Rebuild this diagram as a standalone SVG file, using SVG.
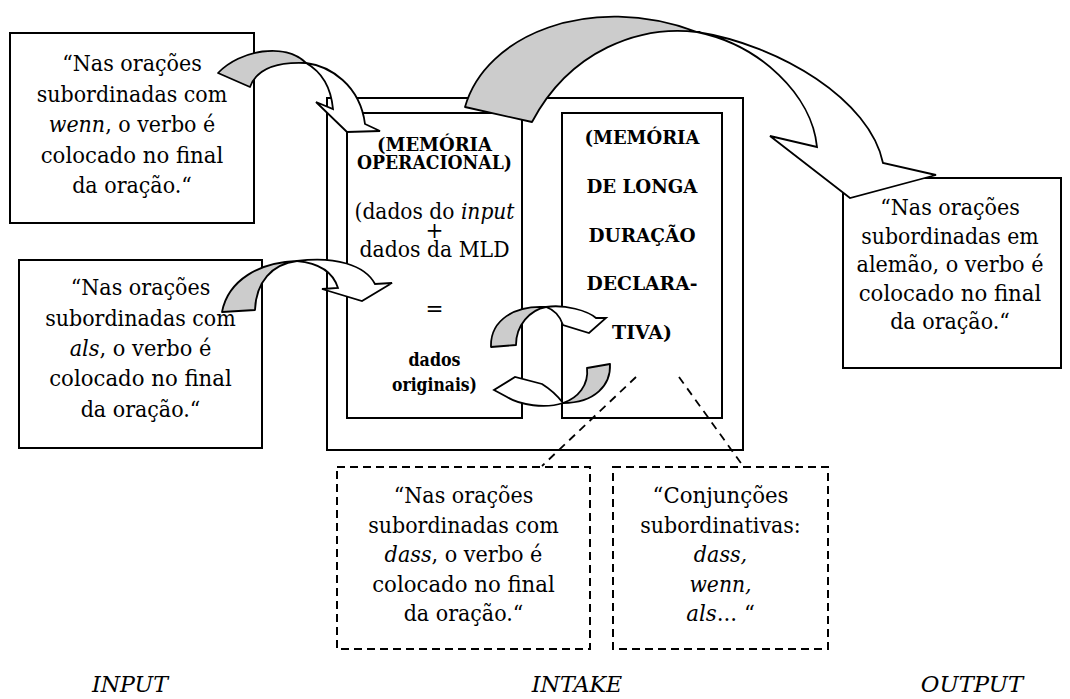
<svg xmlns="http://www.w3.org/2000/svg" width="1070" height="699" viewBox="0 0 1070 699">
<style>
.box{fill:#fff;stroke:#000;stroke-width:2}
.dbox{fill:#fff;stroke:#000;stroke-width:2;stroke-dasharray:8 5}
.dline{fill:none;stroke:#000;stroke-width:1.8;stroke-dasharray:8 6}
.t{font-family:"DejaVu Serif",serif;font-size:22px;fill:#000;text-anchor:middle}
.b{font-family:"DejaVu Serif",serif;font-weight:bold;font-size:18px;fill:#000;text-anchor:middle}
.m{font-family:"DejaVu Serif",serif;font-size:21.5px;fill:#000;text-anchor:middle}
.lab{font-family:"DejaVu Serif",serif;font-size:22px;font-style:italic;fill:#000;text-anchor:middle}
.i{font-style:italic}
.gray{fill:#cccccc;stroke:#000;stroke-width:1.8;stroke-linejoin:round}
.white{fill:#fff;stroke:#000;stroke-width:1.8;stroke-linejoin:miter}
</style>

<g id="intake">
<rect class="box" x="327" y="98" width="416" height="352"/>
</g>

<g id="mem-operacional">
<rect class="box" x="347" y="113" width="175" height="305"/>
<text class="b" x="434.5" y="151" textLength="115" lengthAdjust="spacingAndGlyphs">(MEMÓRIA</text>
<text class="b" x="434.5" y="169" textLength="155" lengthAdjust="spacingAndGlyphs">OPERACIONAL)</text>
<text class="m" x="434.5" y="219" textLength="160" lengthAdjust="spacingAndGlyphs">(dados do <tspan class="i">input</tspan></text>
<text class="m" x="434.5" y="238" font-size="20">+</text>
<text class="m" x="434.5" y="257" textLength="150" lengthAdjust="spacingAndGlyphs">dados da MLD</text>
<text class="m" x="434.5" y="316">=</text>
<text class="b" x="434.5" y="366" textLength="52" lengthAdjust="spacingAndGlyphs">dados</text>
<text class="b" x="434.5" y="391" textLength="85" lengthAdjust="spacingAndGlyphs">originais)</text>
</g>

<g id="mem-longa">
<rect class="box" x="562" y="113" width="160" height="305"/>
<text class="b" x="642" y="144" textLength="115" lengthAdjust="spacingAndGlyphs">(MEMÓRIA</text>
<text class="b" x="642" y="193" textLength="111" lengthAdjust="spacingAndGlyphs">DE LONGA</text>
<text class="b" x="642" y="242" textLength="107" lengthAdjust="spacingAndGlyphs">DURAÇÃO</text>
<text class="b" x="642" y="290" textLength="111" lengthAdjust="spacingAndGlyphs">DECLARA-</text>
<text class="b" x="642" y="339" textLength="60" lengthAdjust="spacingAndGlyphs">TIVA)</text>
</g>

<g id="input-wenn">
<rect class="box" x="10" y="33" width="244" height="190"/>
<text class="t" x="132" y="71" textLength="139.5" lengthAdjust="spacingAndGlyphs">“Nas orações</text>
<text class="t" x="132" y="101.5" textLength="190.6" lengthAdjust="spacingAndGlyphs">subordinadas com</text>
<text class="t" x="132" y="132" textLength="166.5" lengthAdjust="spacingAndGlyphs"><tspan class="i">wenn</tspan>, o verbo é</text>
<text class="t" x="132" y="162.5" textLength="182.6" lengthAdjust="spacingAndGlyphs">colocado no final</text>
<text class="t" x="132" y="193" textLength="119.7" lengthAdjust="spacingAndGlyphs">da oração.“</text>
</g>

<g id="input-als">
<rect class="box" x="19" y="260" width="243" height="188"/>
<text class="t" x="140.5" y="295" textLength="139.5" lengthAdjust="spacingAndGlyphs">“Nas orações</text>
<text class="t" x="140.5" y="325.5" textLength="190.6" lengthAdjust="spacingAndGlyphs">subordinadas com</text>
<text class="t" x="140.5" y="356" textLength="141.7" lengthAdjust="spacingAndGlyphs"><tspan class="i">als</tspan>, o verbo é</text>
<text class="t" x="140.5" y="386" textLength="182.6" lengthAdjust="spacingAndGlyphs">colocado no final</text>
<text class="t" x="140.5" y="416.5" textLength="119.7" lengthAdjust="spacingAndGlyphs">da oração.“</text>
</g>

<g id="output">
<rect class="box" x="843" y="178" width="218" height="190"/>
<text class="t" x="950" y="215" textLength="139.5" lengthAdjust="spacingAndGlyphs">“Nas orações</text>
<text class="t" x="950" y="243.5" textLength="177.5" lengthAdjust="spacingAndGlyphs">subordinadas em</text>
<text class="t" x="950" y="272" textLength="187" lengthAdjust="spacingAndGlyphs">alemão, o verbo é</text>
<text class="t" x="950" y="300.5" textLength="182.6" lengthAdjust="spacingAndGlyphs">colocado no final</text>
<text class="t" x="950" y="329" textLength="119.7" lengthAdjust="spacingAndGlyphs">da oração.“</text>
</g>

<g id="intake-dass">
<rect class="dbox" x="337" y="467" width="253" height="182"/>
<text class="t" x="463.5" y="503" textLength="139.5" lengthAdjust="spacingAndGlyphs">“Nas orações</text>
<text class="t" x="463.5" y="532.5" textLength="190.6" lengthAdjust="spacingAndGlyphs">subordinadas com</text>
<text class="t" x="463.5" y="562" textLength="157.8" lengthAdjust="spacingAndGlyphs"><tspan class="i">dass</tspan>, o verbo é</text>
<text class="t" x="463.5" y="591.5" textLength="182.6" lengthAdjust="spacingAndGlyphs">colocado no final</text>
<text class="t" x="463.5" y="621" textLength="119.7" lengthAdjust="spacingAndGlyphs">da oração.“</text>
</g>

<g id="intake-conjuncoes">
<rect class="dbox" x="613" y="467" width="215" height="182"/>
<text class="t" x="720.5" y="503" textLength="135.9" lengthAdjust="spacingAndGlyphs">“Conjunções</text>
<text class="t" x="720.5" y="532.5" textLength="160.5" lengthAdjust="spacingAndGlyphs">subordinativas:</text>
<text class="t" x="720.5" y="562" textLength="53.3" lengthAdjust="spacingAndGlyphs"><tspan class="i">dass,</tspan></text>
<text class="t" x="720.5" y="591.5" textLength="62.1" lengthAdjust="spacingAndGlyphs"><tspan class="i">wenn,</tspan></text>
<text class="t" x="720.5" y="621" textLength="68.7" lengthAdjust="spacingAndGlyphs"><tspan class="i">als</tspan>... “</text>
</g>

<g id="connectors">
<path class="gray" d="M218,73 C240,50 285,42 306,63 C285,62 258,65 250,87 Z"/>
<path class="white" d="M306,63 C330,66 360,85 365,124 L380,131 L347,132 L316,102 L333,109 C331,88 322,72 306,63 Z"/>
<path class="gray" d="M222,312 C228,280 260,262 297,261 C272,264 256,282 255,310 Z"/>
<path class="white" d="M297,261 C335,256 365,265 375,284 L392,283 L362,301 L322,289 L338,288 C333,272 318,263 297,261 Z"/>
<path class="gray" d="M465,107 C485,35 590,-8 697,32 C640,25 570,50 532,122 Z"/>
<path class="white" d="M697,32 C780,45 870,100 883,163 L936,175 L850,198 L770,136 L817,147 C812,95 760,45 697,32 Z"/>
<path class="gray" d="M491,347 C490,320 515,305 546,307 C530,310 516,325 516,345 Z"/>
<path class="white" d="M546,307 C565,304 588,311 596,318 L606,318 L589,333 L563,325 C560,316 555,310 546,307 Z"/>
<path class="gray" d="M610,364 C611,385 595,403 563,403 C578,398 589,385 587,368 Z"/>
<path class="white" d="M563,403 C545,409 520,405 507,397 L494,390 L515,377 L542,384 C550,389 557,395 563,403 Z"/>
<path class="dline" d="M636,377 L542,466"/>
<path class="dline" d="M679,377 L743,466"/>
</g>

<g id="labels">
<text class="lab" x="130" y="692" textLength="76" lengthAdjust="spacingAndGlyphs">INPUT</text>
<text class="lab" x="577" y="692" textLength="90.6" lengthAdjust="spacingAndGlyphs">INTAKE</text>
<text class="lab" x="972" y="692" textLength="102.3" lengthAdjust="spacingAndGlyphs">OUTPUT</text>
</g>
</svg>
